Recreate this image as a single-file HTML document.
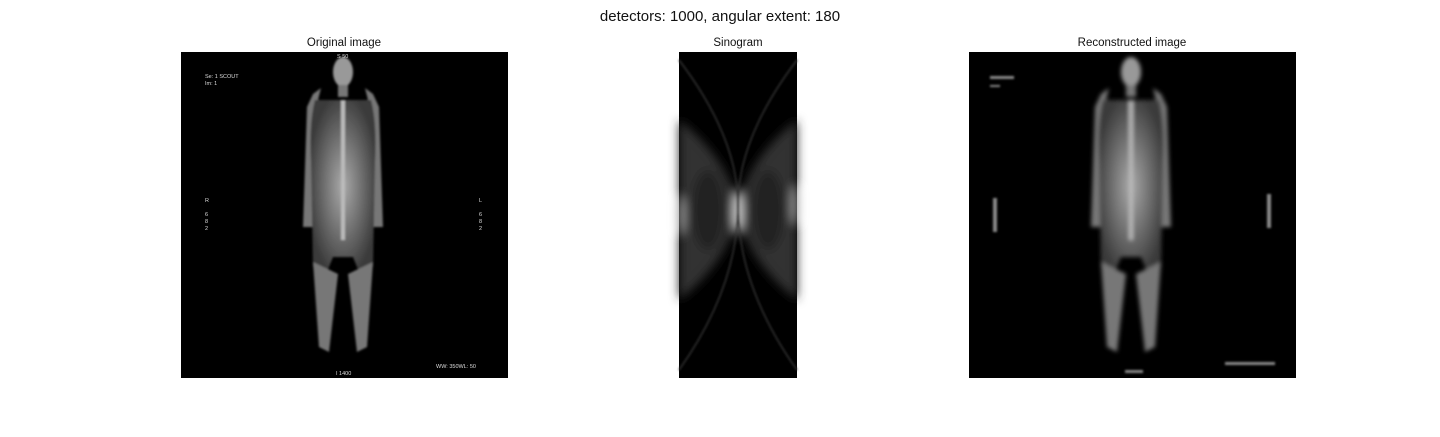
<!DOCTYPE html>
<html><head><meta charset="utf-8"><style>
body{margin:0;background:#fff;width:1440px;height:432px;overflow:hidden;font-family:"Liberation Sans",sans-serif}
</style></head><body>
<svg width="1440" height="432" xmlns="http://www.w3.org/2000/svg">
<defs>
<filter id="b2"><feGaussianBlur stdDeviation="2"/></filter>
<filter id="b4"><feGaussianBlur stdDeviation="5"/></filter>
<filter id="b1"><feGaussianBlur stdDeviation="1"/></filter>
<radialGradient id="tor" cx="50%" cy="50%" r="55%"><stop offset="0" stop-color="#aaa"/><stop offset="1" stop-color="#3a3a3a"/></radialGradient>
<g id="body">
<ellipse cx="0" cy="20" rx="10" ry="15" fill="#999"/>
<rect x="-5" y="33" width="10" height="12" fill="#777"/>
<path d="M-40,175 L-36,55 L-30,42 L-22,36 L-28,60 L-30,175 Z" fill="#777"/>
<path d="M40,175 L36,55 L30,42 L22,36 L28,60 L30,175 Z" fill="#777"/>
<path d="M-28,48 Q-34,70 -32,110 L-30,215 L-16,220 L-10,205 L10,205 L16,220 L30,215 L32,110 Q34,70 28,48 Z" fill="url(#tor)"/>
<path d="M-30,210 L-24,295 L-14,300 L-5,222 Z" fill="#777"/>
<path d="M30,210 L24,295 L14,300 L5,222 Z" fill="#777"/>
<rect x="-2" y="48" width="4" height="140" fill="#bbb"/>
</g>
</defs>
<text x="720" y="21" text-anchor="middle" font-size="15" fill="#111">detectors: 1000, angular extent: 180</text>

<g>
<text x="344" y="46" text-anchor="middle" font-size="11.5" fill="#111">Original image</text>
<rect x="181" y="52" width="327" height="326" fill="#000"/>
<g transform="translate(343,52)" filter="url(#b1)"><use href="#body"/></g>
<g font-size="5.5" fill="#ddd">
<text x="337" y="58">S 50</text><text x="205" y="78">Se: 1 SCOUT</text><text x="205" y="85">Im: 1</text>
<text x="205" y="202">R</text><text x="205" y="216">6</text><text x="205" y="223">8</text><text x="205" y="230">2</text>
<text x="479" y="202">L</text><text x="479" y="216">6</text><text x="479" y="223">8</text><text x="479" y="230">2</text>
<text x="436" y="368">WW: 350WL: 50</text><text x="336" y="375">I 1400</text>
</g></g>

<g>
<text x="738" y="46" text-anchor="middle" font-size="11.5" fill="#111">Sinogram</text>
<rect x="679" y="52" width="118" height="326" fill="#000"/>
<g filter="url(#b4)">
<path d="M679,120 Q730,160 738,210 Q730,260 679,300 Z" fill="#333"/>
<path d="M797,120 Q746,160 738,210 Q746,260 797,300 Z" fill="#333"/>
<ellipse cx="708" cy="210" rx="16" ry="40" fill="#222"/>
<ellipse cx="768" cy="210" rx="16" ry="40" fill="#222"/>
<ellipse cx="738" cy="212" rx="4" ry="22" fill="#ddd"/>
<ellipse cx="681" cy="215" rx="3" ry="20" fill="#aaa"/>
<ellipse cx="795" cy="205" rx="3" ry="20" fill="#aaa"/>
</g>
<g fill="none" stroke="#333" stroke-width="1.5" filter="url(#b1)">
<path d="M679,60 Q740,140 738,210 Q736,290 679,370"/>
<path d="M797,60 Q736,140 738,210 Q740,290 797,370"/>
</g></g>

<g>
<text x="1132" y="46" text-anchor="middle" font-size="11.5" fill="#111">Reconstructed image</text>
<rect x="969" y="52" width="327" height="326" fill="#000"/>
<g transform="translate(1131,52)" filter="url(#b2)"><use href="#body"/></g>
<g fill="#888" filter="url(#b1)">
<rect x="990" y="76" width="24" height="3"/><rect x="990" y="85" width="10" height="2"/>
<rect x="993" y="198" width="4" height="34"/><rect x="1267" y="194" width="4" height="34"/>
<rect x="1225" y="362" width="50" height="3"/><rect x="1125" y="370" width="18" height="3"/>
</g></g>
</svg>
</body></html>
